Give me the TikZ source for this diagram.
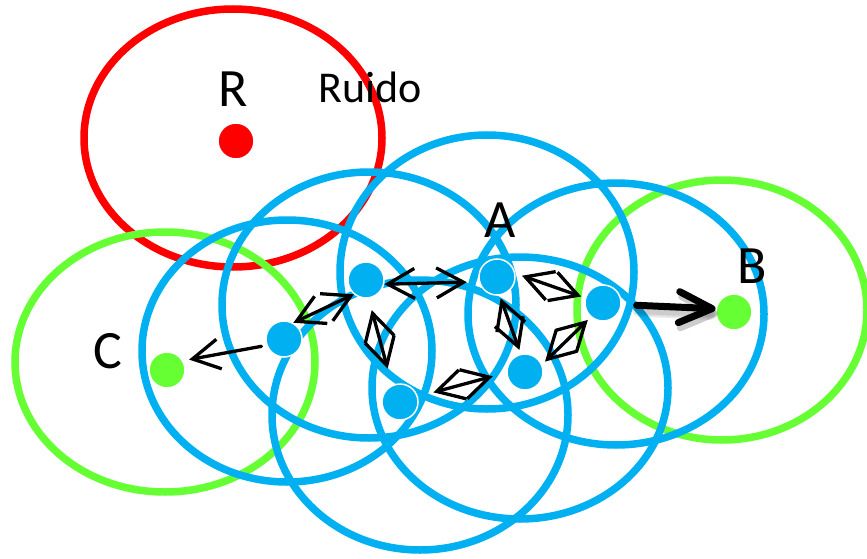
\documentclass[tikz,border=0pt]{standalone}
\usepackage{fontspec}
\setmainfont{Carlito}
\usetikzlibrary{arrows.meta}
\definecolor{cblue}{RGB}{0,176,240}
\definecolor{cgreen}{RGB}{102,255,51}
\definecolor{cred}{RGB}{255,0,0}
\tikzset{
  ring/.style={line width=7.5pt},
  dotnode/.style={circle, minimum size=36pt, inner sep=0pt, draw=white, line width=1.5pt},
  headtip/.tip={Straight Barb[length=27pt,width=30pt,line width=3.3pt]},
  link/.style={line width=3.3pt, line cap=round, headtip-headtip},
  onelink/.style={line width=3.3pt, line cap=round, -headtip},
  boldlink/.style={line width=7pt, line cap=round, -{Straight Barb[length=33pt,width=31pt,line width=7pt,round]}},
  shadowlink/.style={boldlink, black, opacity=0.07, transform canvas={shift={(2pt,-5pt)}}},
  lbl/.style={anchor=base, inner sep=0pt, font=\fontsize{54}{60}\selectfont},
}
\begin{document}
\begin{tikzpicture}[x=1pt,y=-1pt]
\useasboundingbox[fill=white] (0,0) rectangle (867,559);
% ranges
\draw[ring, cred] (233,138) ellipse [x radius=149, y radius=129];
\draw[ring, cgreen] (165,362) ellipse [x radius=150, y radius=130];
\draw[ring, cgreen] (722,310) ellipse [x radius=145, y radius=130];
\draw[ring, cblue] (287,351) ellipse [x radius=145, y radius=131];
\draw[ring, cblue] (369,305) ellipse [x radius=147, y radius=133];
\draw[ring, cblue] (487,272) ellipse [x radius=147, y radius=137];
\draw[ring, cblue] (616,314) ellipse [x radius=148, y radius=131];
\draw[ring, cblue] (520,388) ellipse [x radius=148, y radius=131];
\draw[ring, cblue] (420,415) ellipse [x radius=148, y radius=135];
% nodes
\node[dotnode, fill=cred] (r) at (236,141) {};
\node[dotnode, fill=cgreen] (c) at (167,370) {};
\node[dotnode, fill=cgreen] (b) at (734,312) {};
\node[dotnode, fill=cblue] (n1) at (284,339) {};
\node[dotnode, fill=cblue] (n2) at (366,280) {};
\node[dotnode, fill=cblue] (n3) at (497,277) {};
\node[dotnode, fill=cblue] (n4) at (603,303) {};
\node[dotnode, fill=cblue] (n5) at (525,372) {};
\node[dotnode, fill=cblue] (n6) at (400,402) {};
% links
\draw[link] (n1.60) -- (n2.230);
\draw[link, shorten >=12pt] (n2.-13) -- (n3.195);
\draw[link, shorten <=12pt, shorten >=17pt] (n2.-82) -- (n6.115);
\draw[link, shorten <=7pt, shorten >=4pt] (n3.11) -- (n4.164);
\draw[link, shorten <=3pt, shorten >=4pt] (n3.-82) -- (n5.103);
\draw[link, shorten <=4pt, shorten >=4pt] (n5.24) -- (n4.229);
\draw[link, shorten <=16pt, shorten >=14pt] (n6.17) -- (n5.182);
\draw[onelink, shorten <=5pt, shorten >=6pt] (n1.200) -- (c.30);
\draw[shadowlink, line width=13pt, shorten <=15pt] (n4.-5) -- (b.170);
\draw[shadowlink, line width=10pt, shorten <=15pt] (n4.-5) -- (b.170);
\draw[shadowlink, line width=7pt, shorten <=15pt] (n4.-5) -- (b.170);
\draw[boldlink, shorten <=15pt] (n4.-5) -- (b.170);
% labels
\node[lbl] (tr) at (233,107) {R};
\node[lbl, anchor=base west, font=\fontsize{44}{50}\selectfont] (truido) at (318,103) {Ruido};
\node[lbl] (ta) at (500,237) {A};
\node[lbl] (tb) at (752,283) {B};
\node[lbl] (tc) at (108,368) {C};
\end{tikzpicture}
\end{document}
